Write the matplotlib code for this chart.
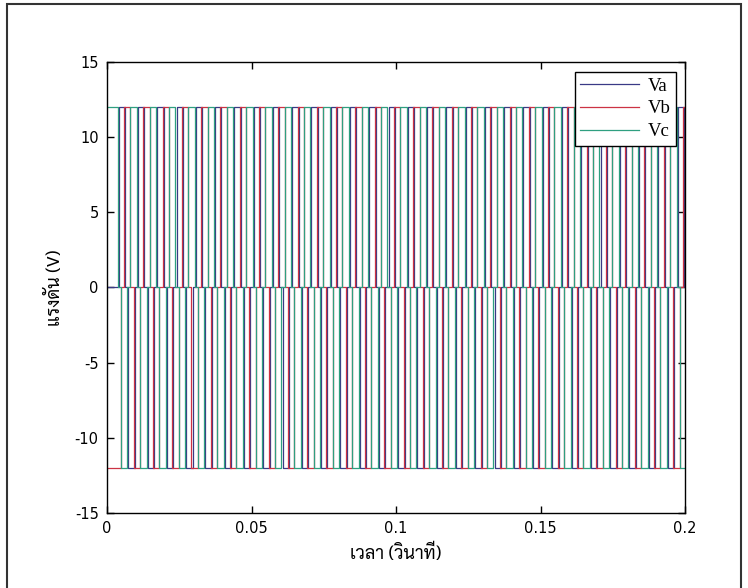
import numpy as np
import matplotlib
matplotlib.use("Agg")
import matplotlib.pyplot as plt
from matplotlib.patches import Rectangle

# ---- data ----
series_names = ["Va", "Vb", "Vc"]
series_colors = ["#3a3a86", "#cc3344", "#2f9f80"]
amplitude = 12.0          # V
frequency = 150.0         # Hz (switching fundamental)
phase_deg = [0.0, -100.0, 140.0]
start_delay = 0.0035      # s, initial hold
t_end = 0.2
xticks = [0, 0.05, 0.1, 0.15, 0.2]
xtick_labels = ["0", "0.05", "0.1", "0.15", "0.2"]
yticks = [-15, -10, -5, 0, 5, 10, 15]
ylabel = "แรงดัน (V)"
xlabel = "เวลา (วินาที)"

def level(theta):
    th = theta % 360.0
    if 30 <= th < 150:
        return amplitude
    if 210 <= th < 330:
        return -amplitude
    return 0.0

def waveform(ph):
    T = 1.0 / frequency
    xs = [0.0]
    ys = [level(ph)]
    k = np.floor((ph - 30) / 60.0) + 1
    while True:
        ang = 30 + 60 * k
        t = start_delay + (ang - ph) / 360.0 * T
        if t >= t_end:
            break
        newv = level(ang + 1e-6)
        if newv != ys[-1]:
            xs += [t, t]
            ys += [ys[-1], newv]
        k += 1
    xs.append(t_end)
    ys.append(ys[-1])
    return np.array(xs), np.array(ys)

plt.rcParams['font.family'] = ['DejaVu Sans']
plt.rcParams['axes.unicode_minus'] = False
fig = plt.figure(figsize=(7.48, 5.88), dpi=100)
ax = fig.add_axes([0.143, 0.1276, 0.773, 0.767])

for name, col, ph in zip(series_names, series_colors, phase_deg):
    x, y = waveform(ph)
    ax.plot(x, y, color=col, lw=0.9, label=name)

ax.set_xlim(0, 0.2)
ax.set_ylim(-15, 15)
ax.set_xticks(xticks)
ax.set_xticklabels(xtick_labels)
ax.set_yticks(yticks)
ax.tick_params(direction='in', top=True, right=True, length=5, width=1,
               labelsize=10.5, pad=6, colors='black')
for s in ax.spines.values():
    s.set_linewidth(1.0)

thai = ['Sarabun', 'Anuphan', 'FreeSerif', 'DejaVu Sans']
ax.set_ylabel(ylabel, family=thai, fontsize=13, labelpad=8)
ax.set_xlabel(xlabel, family=thai, fontsize=13, labelpad=5)

leg = ax.legend(loc='upper right', bbox_to_anchor=(0.985, 0.978), frameon=True,
                fancybox=False, shadow=False, edgecolor='black', framealpha=1,
                prop={'family': 'Liberation Serif', 'size': 13.5}, handlelength=3.1,
                borderpad=0.3, labelspacing=0.3, handletextpad=0.5, borderaxespad=0)
leg.get_frame().set_linewidth(1.0)

fig.patches.append(Rectangle((0.009, -0.02), 0.982, 1.014, transform=fig.transFigure,
                             fill=False, edgecolor='#333333', lw=1.5))
fig.savefig("out.png", dpi=100)
